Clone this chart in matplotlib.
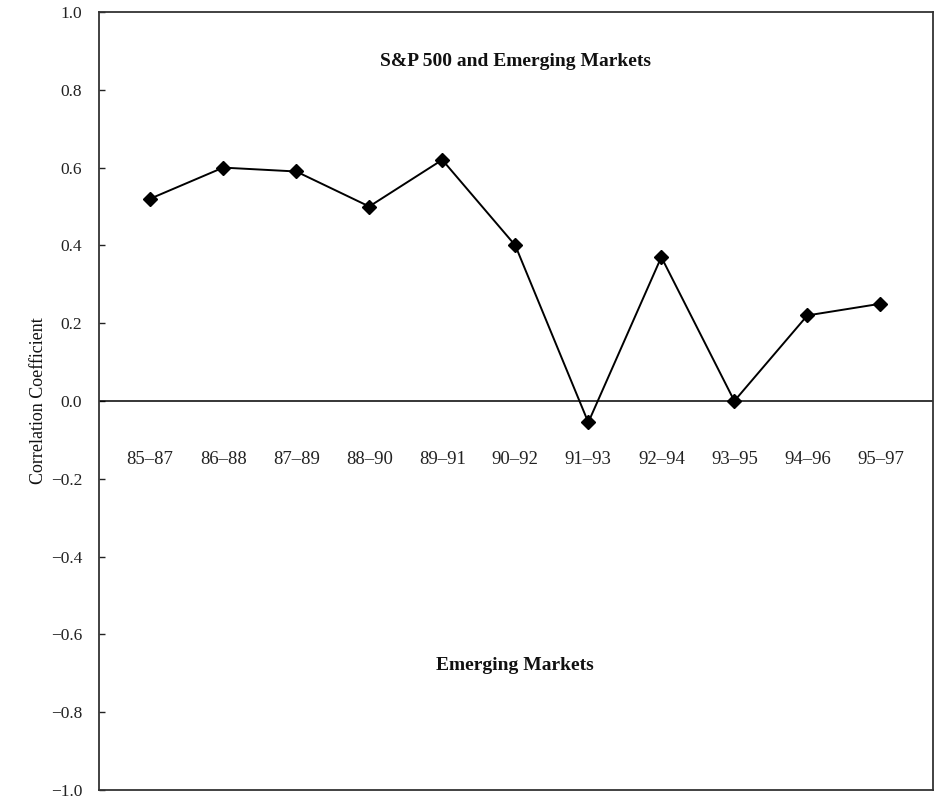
import matplotlib
matplotlib.use("Agg")
from matplotlib import pyplot as plt

periods = ["85–87", "86–88", "87–89", "88–90", "89–91", "90–92",
           "91–93", "92–94", "93–95", "94–96", "95–97"]
correlation = [0.52, 0.60, 0.59, 0.50, 0.62, 0.40, -0.055, 0.37, 0.0, 0.22, 0.25]
y_ticks = [-1.0, -0.8, -0.6, -0.4, -0.2, 0.0, 0.2, 0.4, 0.6, 0.8, 1.0]

plt.rcParams['font.family'] = ['Liberation Serif', 'DejaVu Serif']

fig = plt.figure(figsize=(9.37, 8), dpi=100)
ax = fig.add_axes([0.1057, 0.0125, 0.8900, 0.9725])

x = list(range(len(periods)))
ax.plot(x, correlation, color="black", linewidth=1.4, marker="D",
        markersize=7.5, markerfacecolor="black", markeredgecolor="black")
ax.axhline(0, color="black", linewidth=1.1)

ax.set_xlim(-0.7, 10.72)
ax.set_ylim(-1.0, 1.0)
ax.set_yticks(y_ticks)
ax.set_yticklabels([f"{v:.1f}".replace("-", "−") for v in y_ticks])
ax.tick_params(axis="y", direction="in", length=4, width=1, labelsize=12.5,
               colors="#222222", pad=12)
ax.set_xticks([])

# Period labels sit under the zero line
for xi, label in zip(x, periods):
    ax.text(xi, -0.15, label, ha="center", va="center", fontsize=13.5, color="#222222")

ax.text(5, 0.872, "S&P 500 and Emerging Markets", ha="center", va="center",
        fontsize=14, fontweight="bold", color="#111111")
ax.text(5, -0.68, "Emerging Markets", ha="center", va="center",
        fontsize=14, fontweight="bold", color="#111111")
ax.set_ylabel("Correlation Coefficient", fontsize=13, color="#111111", labelpad=3)

for side in ax.spines.values():
    side.set_linewidth(1.3)
    side.set_color("#333333")

plt.savefig("out.png", dpi=100)
